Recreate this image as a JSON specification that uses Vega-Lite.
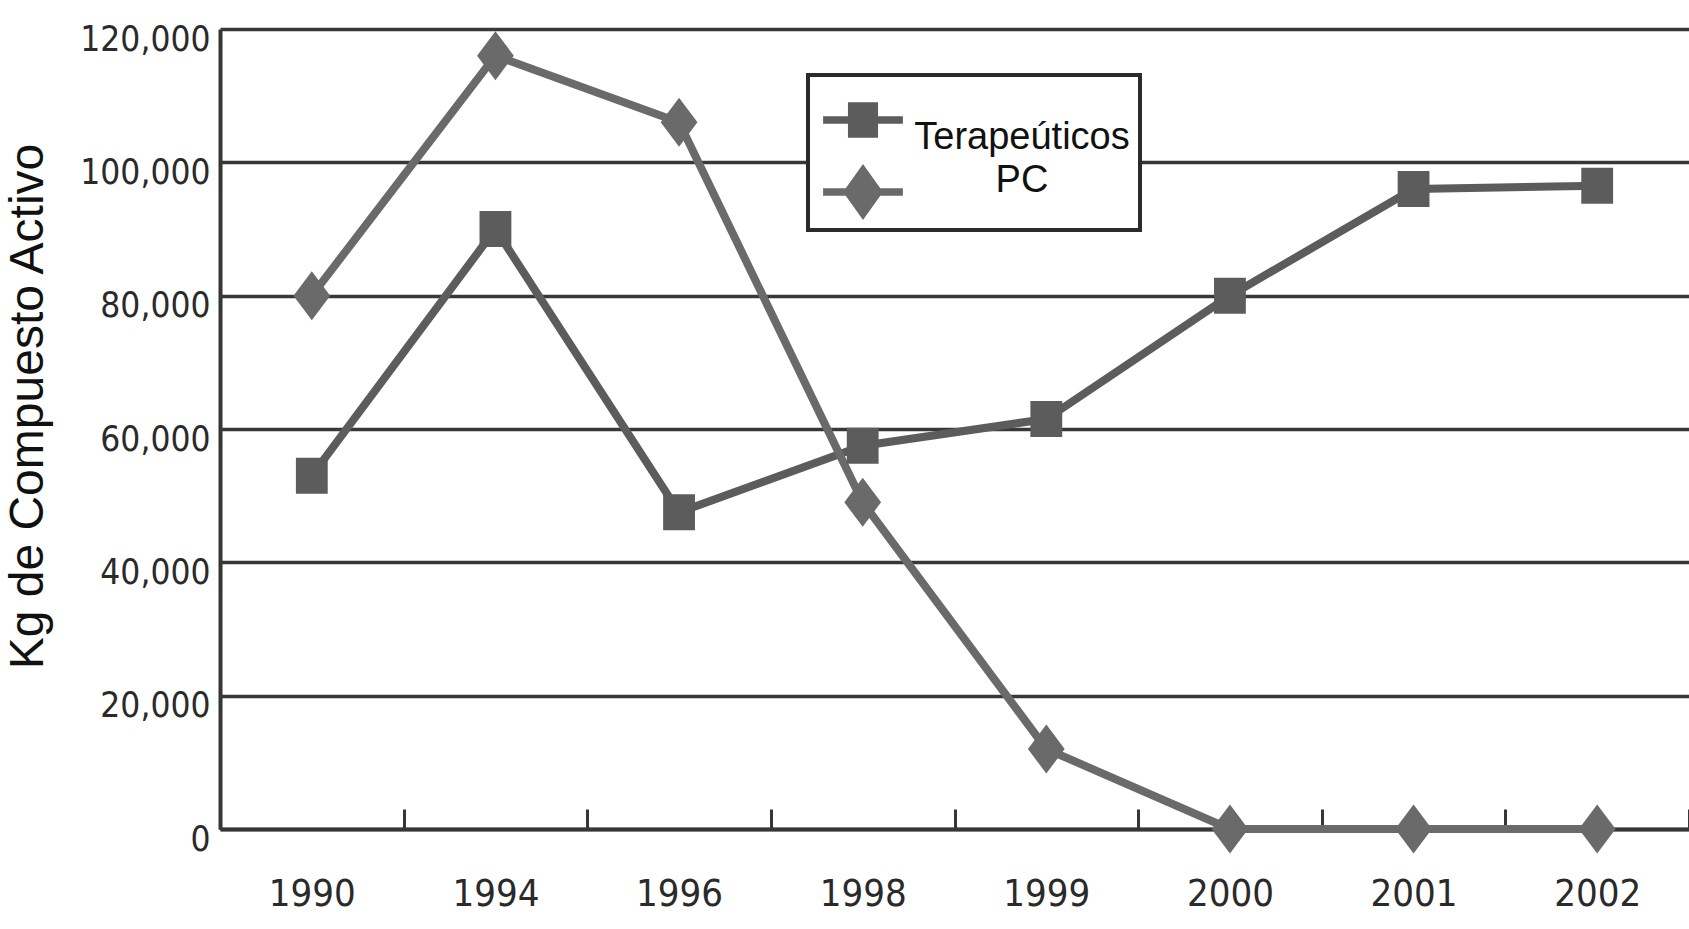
{
  "$schema": "https://vega.github.io/schema/vega-lite/v6.json",
  "width": 1469,
  "height": 800,
  "autosize": {"type": "none"},
  "padding": {"left": 220, "top": 29, "right": 0, "bottom": 100},
  "background": "white",
  "config": {"view": {"stroke": null}},
  "data": {
    "values": [
      {"anio": "1990", "serie": "Terapeúticos", "kg": 53000},
      {"anio": "1994", "serie": "Terapeúticos", "kg": 90000},
      {"anio": "1996", "serie": "Terapeúticos", "kg": 47500},
      {"anio": "1998", "serie": "Terapeúticos", "kg": 57500},
      {"anio": "1999", "serie": "Terapeúticos", "kg": 61500},
      {"anio": "2000", "serie": "Terapeúticos", "kg": 80000},
      {"anio": "2001", "serie": "Terapeúticos", "kg": 96000},
      {"anio": "2002", "serie": "Terapeúticos", "kg": 96500},
      {"anio": "1990", "serie": "PC", "kg": 80000},
      {"anio": "1994", "serie": "PC", "kg": 116000},
      {"anio": "1996", "serie": "PC", "kg": 106000},
      {"anio": "1998", "serie": "PC", "kg": 49000},
      {"anio": "1999", "serie": "PC", "kg": 12000},
      {"anio": "2000", "serie": "PC", "kg": 0},
      {"anio": "2001", "serie": "PC", "kg": 0},
      {"anio": "2002", "serie": "PC", "kg": 0}
    ]
  },
  "encoding": {
    "x": {
      "field": "anio", "type": "ordinal", "sort": null,
      "scale": {"type": "band", "paddingInner": 0, "paddingOuter": 0},
      "axis": {
        "title": null, "labelAngle": 0,
        "labelFont": "DejaVu Sans Condensed, sans-serif",
        "labelFontSize": 38, "labelColor": "#2a2a2a",
        "labelPadding": 66, "labelBaseline": "top",
        "domain": true, "domainColor": "#363636", "domainWidth": 4,
        "ticks": true, "tickBand": "extent", "tickSize": -20, "tickColor": "#363636", "tickWidth": 3,
        "grid": false
      }
    },
    "y": {
      "field": "kg", "type": "quantitative",
      "scale": {"domain": [0, 120000], "nice": false},
      "axis": {
        "values": [0, 20000, 40000, 60000, 80000, 100000, 120000],
        "format": ",d",
        "title": "Kg de Compuesto Activo",
        "titleFont": "Liberation Sans, Arial, sans-serif",
        "titleFontSize": 48, "titleFontWeight": "normal", "titleColor": "#111",
        "titleAngle": -90, "titleAlign": "center", "titleBaseline": "alphabetic",
        "titleX": -178, "titleY": 377,
        "labelFont": "DejaVu Sans Condensed, sans-serif",
        "labelFontSize": 35, "labelColor": "#2a2a2a",
        "labelPadding": 10, "labelOffset": 10,
        "ticks": false,
        "domain": true, "domainColor": "#363636", "domainWidth": 4,
        "grid": true, "gridColor": "#383838", "gridWidth": 3.5
      }
    },
    "color": {
      "field": "serie", "type": "nominal",
      "scale": {"domain": ["Terapeúticos", "PC"], "range": ["#5c5c5c", "#6a6a6a"]},
      "legend": {
        "title": null, "orient": "none", "legendX": 588, "legendY": 46,
        "padding": 10, "rowPadding": 0, "symbolSize": 4900, "symbolOffset": 10,
        "labelOffset": 124, "labelAlign": "center",
        "labelFont": "Liberation Sans, Arial, sans-serif", "labelFontSize": 38, "labelColor": "#111", "labelLimit": 0,
        "fillColor": "white", "strokeColor": "#2b2b2b",
        "encode": {
          "legend": {"update": {"strokeWidth": {"value": 4}}},
          "symbols": {"update": {
            "shape": {"signal": "datum.value === 'PC' ? 'M-1.14,-0.11H1.14V0.11H-1.14Z M0,-0.8L0.57,0L0,0.8L-0.57,0Z' : 'M-1.14,-0.11H1.14V0.11H-1.14Z M-0.43,-0.51H0.43V0.51H-0.43Z'"},
            "fill": {"value": "#555555"},
            "fillOpacity": {"value": 1},
            "opacity": {"value": 1},
            "stroke": {"value": "transparent"},
            "strokeWidth": {"value": 0}
          }},
          "labels": {"update": {"dy": {"signal": "datum.value === 'PC' ? -11 : 18"}}}
        }
      }
    }
  },
  "layer": [
    {
      "mark": {"type": "line", "strokeWidth": 8, "strokeJoin": "round"}
    },
    {
      "transform": [{"filter": "datum.serie === 'Terapeúticos'"}],
      "mark": {"type": "point", "filled": true, "opacity": 1, "size": 1800, "shape": "M-0.75,-0.85H0.75V0.85H-0.75Z"}
    },
    {
      "transform": [{"filter": "datum.serie === 'PC'"}],
      "mark": {"type": "point", "filled": true, "opacity": 1, "size": 2400, "shape": "M0,-1L0.75,0L0,1L-0.75,0Z"}
    }
  ]
}
